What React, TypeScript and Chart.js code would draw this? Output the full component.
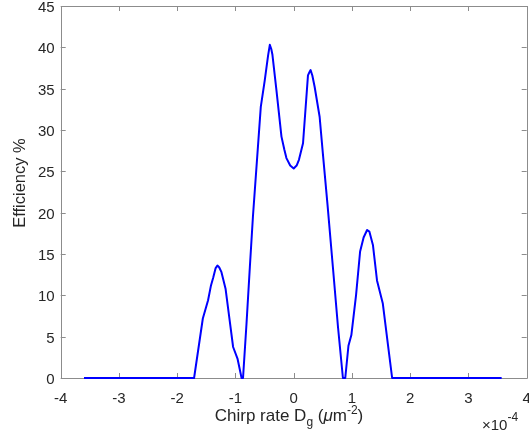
import React, { useEffect, useRef } from "react";
import { Chart, registerables } from "chart.js";

Chart.register(...registerables);

// Chirp rate (in units of 1e-4 um^-2)
const chirpRate = [
  -3.6, -1.71, -1.56, -1.47, -1.42, -1.38, -1.34, -1.31, -1.28, -1.24, -1.17, -1.1, -1.04, -0.965,
  -0.895, -0.87, -0.81, -0.753, -0.7, -0.565, -0.497, -0.44, -0.41, -0.385, -0.365, -0.296, -0.21,
  -0.16, -0.125, -0.06, 0, 0.05, 0.09, 0.16, 0.245, 0.27, 0.29, 0.32, 0.36, 0.445, 0.5, 0.58, 0.673,
  0.76, 0.845, 0.885, 0.94, 0.99, 1.07, 1.14, 1.2, 1.26, 1.3, 1.36, 1.43, 1.53, 1.615, 1.69, 3.57,
];
// Efficiency %
const efficiency = [
  0, 0, 7.2, 9.4, 11.2, 12.2, 13.3, 13.6, 13.4, 12.8, 10.8, 7.0, 3.75, 2.35,
  0, 0, 6.6, 13.4, 19.5, 32.8, 36.0, 39.0, 40.3, 39.8, 39.1, 34.8, 29.2,
  27.6, 26.6, 25.7, 25.35, 25.7, 26.4, 28.4, 36.6, 37.0, 37.25, 36.6, 35.2, 31.6, 27.2, 21.0, 13.4,
  6.2, 0, 0, 3.9, 5.2, 10.0, 15.3, 17.0, 17.9, 17.7, 16.1, 11.8, 9.0, 4.2, 0, 0,
];

const xTicks = [-4, -3, -2, -1, 0, 1, 2, 3, 4];
const yTicks = [0, 5, 10, 15, 20, 25, 30, 35, 40, 45];
const xTickLabels = ["-4", "-3", "-2", "-1", "0", "1", "2", "3", "4"];
const yTickLabels = ["0", "5", "10", "15", "20", "25", "30", "35", "40", "45"];

const FONT = '"Liberation Sans", Arial, Helvetica, sans-serif';
const TEXT = "#262626";
const AXIS = "#8c8c8c";

const axesPlugin = {
  id: "matlabAxes",
  beforeDatasetsDraw(chart: any) {
    const { ctx, chartArea } = chart;
    const { left, right, top, bottom } = chartArea;
    const xs = chart.scales.x;
    const ys = chart.scales.y;
    ctx.save();
    ctx.strokeStyle = AXIS;
    ctx.lineWidth = 1;
    ctx.beginPath();
    ctx.rect(Math.round(left) + 0.5, Math.round(top) + 0.5, Math.round(right - left), Math.round(bottom - top));
    ctx.stroke();
    const tl = 5;
    ctx.beginPath();
    xTicks.forEach((v) => {
      const px = Math.round(xs.getPixelForValue(v)) + 0.5;
      ctx.moveTo(px, bottom);
      ctx.lineTo(px, bottom - tl);
      ctx.moveTo(px, top);
      ctx.lineTo(px, top + tl);
    });
    yTicks.forEach((v) => {
      const py = Math.round(ys.getPixelForValue(v)) + 0.5;
      ctx.moveTo(left, py);
      ctx.lineTo(left + tl, py);
      ctx.moveTo(right, py);
      ctx.lineTo(right - tl, py);
    });
    ctx.stroke();

    // tick labels
    ctx.fillStyle = TEXT;
    ctx.font = `15px ${FONT}`;
    ctx.textBaseline = "alphabetic";
    ctx.textAlign = "center";
    xTicks.forEach((v, i) => {
      ctx.fillText(xTickLabels[i], xs.getPixelForValue(v), 402.5);
    });
    ctx.textAlign = "right";
    yTicks.forEach((v, i) => {
      ctx.fillText(yTickLabels[i], left - 6, ys.getPixelForValue(v) + 6);
    });

    // y title
    ctx.save();
    ctx.font = `16.5px ${FONT}`;
    ctx.translate(25, 183);
    ctx.rotate(-Math.PI / 2);
    ctx.textAlign = "center";
    ctx.fillText("Efficiency %", 0, 0);
    ctx.restore();

    // x title: Chirp rate D_g (μm^-2)
    const main = `17px ${FONT}`;
    const small = `12px ${FONT}`;
    const italic = `italic 17px ${FONT}`;
    const parts: [string, string, number][] = [
      ["Chirp rate D", main, 0],
      ["g", small, 5],
      [" (", main, 0],
      ["\u03bc", italic, 0],
      ["m", main, 0],
      ["-2", small, -7],
      [")", main, 0],
    ];
    let total = 0;
    parts.forEach(([t, f]) => {
      ctx.font = f;
      total += ctx.measureText(t).width;
    });
    let cx = 289 - total / 2;
    ctx.textAlign = "left";
    parts.forEach(([t, f, dy]) => {
      ctx.font = f;
      ctx.fillText(t, cx, 421 + dy);
      cx += ctx.measureText(t).width;
    });

    // exponent
    ctx.font = `15px ${FONT}`;
    ctx.fillText("\u00d710", 482, 430);
    const w = ctx.measureText("\u00d710").width;
    ctx.font = `12px ${FONT}`;
    ctx.fillText("-4", 482 + w, 421);
    ctx.restore();
  },
};

export default function App() {
  const ref = useRef<HTMLCanvasElement | null>(null);
  useEffect(() => {
    if (!ref.current) return;
    const data = chirpRate.map((x, i) => ({ x, y: efficiency[i] }));
    const chart = new Chart(ref.current, {
      type: "line",
      data: {
        datasets: [
          {
            data,
            borderColor: "#0000ff",
            borderWidth: 2,
            pointRadius: 0,
            fill: false,
            tension: 0,
            clip: 4,
            borderJoinStyle: "round",
          },
        ],
      },
      options: {
        animation: false,
        responsive: false,
        maintainAspectRatio: false,
        parsing: false,
        layout: { padding: { left: 60.7, right: 2.3, top: 6, bottom: 57 } },
        plugins: { legend: { display: false }, tooltip: { enabled: false } },
        scales: {
          x: { type: "linear", min: -4, max: 4, display: false },
          y: { type: "linear", min: 0, max: 45, display: false },
        },
      },
      plugins: [axesPlugin],
    });
    return () => chart.destroy();
  }, []);
  return (
    <div style={{ position: "absolute", left: 0, top: 0, width: 529, height: 435, background: "#fff" }}>
      <canvas ref={ref} width={529} height={435} style={{ width: 529, height: 435 }} />
    </div>
  );
}
